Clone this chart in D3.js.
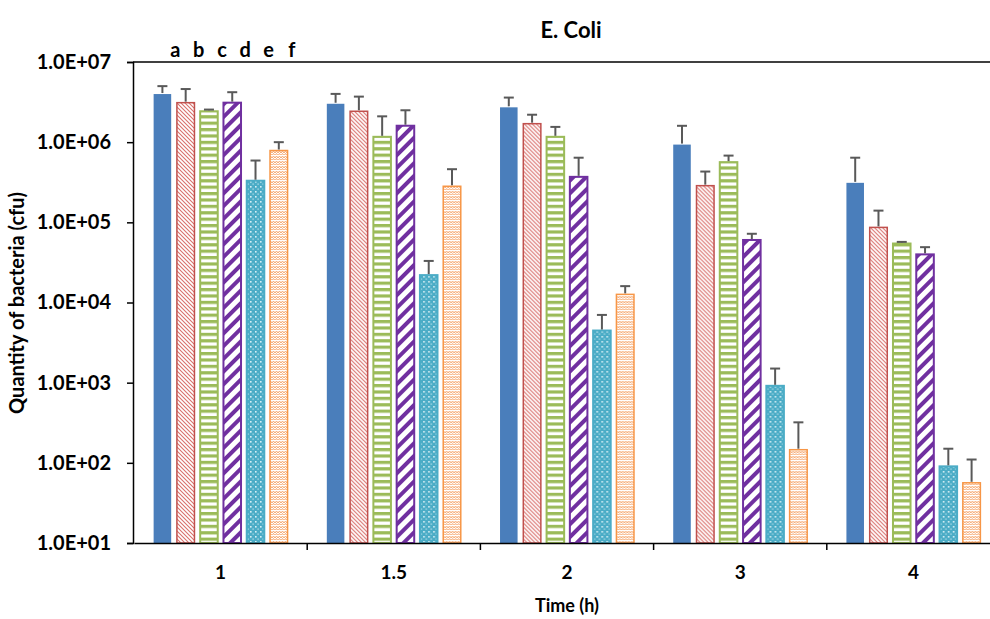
<!DOCTYPE html>
<html>
<head>
<meta charset="utf-8">
<script src="https://cdn.jsdelivr.net/npm/d3@7/dist/d3.min.js"></script>
<style>
  body { margin: 0; background: #fff; }
  text { font-family: Lato, "Open Sans", sans-serif; font-weight: bold; fill: #000; }
</style>
</head>
<body>
<svg id="chart" width="990" height="619"></svg>
<script>
// time points (h)
const times = ["1", "1.5", "2", "3", "4"];
const seriesKeys = ["a", "b", "c", "d", "e", "f"];

// mean counts (cfu), one array per series, in the order of times
const seriesA = [4.1e6, 3.1e6, 2.8e6, 9.6e5, 3.2e5];
const seriesB = [3.2e6, 2.5e6, 1.75e6, 2.95e5, 8.9e4];
const seriesC = [2.5e6, 1.2e6, 1.2e6, 5.8e5, 5.6e4];
const seriesD = [3.2e6, 1.65e6, 3.8e5, 6.2e4, 4.1e4];
const seriesE = [3.4e5, 2.26e4, 4.6e3, 9.4e2, 9.3e1];
const seriesF = [8.1e5, 2.9e5, 1.3e4, 1.5e2, 5.8e1];

// top of the error bar (cfu)
const errA = [5.0e6, 4.0e6, 3.6e6, 1.6e6, 6.4e5];
const errB = [4.6e6, 3.7e6, 2.2e6, 4.3e5, 1.4e5];
const errC = [2.55e6, 2.1e6, 1.55e6, 6.8e5, 5.7e4];
const errD = [4.2e6, 2.5e6, 6.4e5, 7.2e4, 4.9e4];
const errE = [5.9e5, 3.3e4, 7.0e3, 1.5e3, 1.5e2];
const errF = [1.0e6, 4.6e5, 1.6e4, 3.2e2, 1.1e2];

const yTicks = [1e1, 1e2, 1e3, 1e4, 1e5, 1e6, 1e7];

const values = [seriesA, seriesB, seriesC, seriesD, seriesE, seriesF];
const errors = [errA, errB, errC, errD, errE, errF];

const data = times.map((t, i) => ({
  time: t,
  bars: seriesKeys.map((k, j) => ({ key: k, value: values[j][i], err: errors[j][i] }))
}));

const svg = d3.select("#chart");
const plot = { left: 133, right: 1000, top: 62, bottom: 543 };

const x = d3.scaleBand().domain(times).range([plot.left + 1, plot.right]);
const xSub = d3.scaleBand().domain(seriesKeys).range([0, x.bandwidth()])
  .paddingInner(0.16).paddingOuter(0.8);
const y = d3.scaleLog().domain([1e1, 1e7]).range([plot.bottom, plot.top]);

// patterns
const defs = svg.append("defs");
const colors = { a: "#4a7ebb", b: "#c0504d", c: "#9bbb59", d: "#7030a0", e: "#4bacc6", f: "#f79646" };

let p = defs.append("pattern").attr("id", "pb").attr("patternUnits", "userSpaceOnUse")
  .attr("width", 4).attr("height", 4);
p.append("rect").attr("width", 4).attr("height", 4).attr("fill", "#fff");
p.append("path").attr("d", "M-1,-1 L5,5 M-1,3 L1,5 M3,-1 L5,1")
  .attr("stroke", "#d9706c").attr("stroke-width", 1.1);

p = defs.append("pattern").attr("id", "pc").attr("patternUnits", "userSpaceOnUse")
  .attr("width", 6).attr("height", 6.4);
p.append("rect").attr("width", 6).attr("height", 6.4).attr("fill", "#fff");
p.append("rect").attr("width", 6).attr("height", 3.2).attr("fill", colors.c);

p = defs.append("pattern").attr("id", "pd").attr("patternUnits", "userSpaceOnUse")
  .attr("width", 9).attr("height", 9).attr("patternTransform", "rotate(45)");
p.append("rect").attr("width", 9).attr("height", 9).attr("fill", "#fff");
p.append("rect").attr("width", 4).attr("height", 9).attr("fill", colors.d);

p = defs.append("pattern").attr("id", "pe").attr("patternUnits", "userSpaceOnUse")
  .attr("width", 5).attr("height", 5);
p.append("rect").attr("width", 5).attr("height", 5).attr("fill", colors.e);
p.append("rect").attr("x", 1).attr("y", 1).attr("width", 1.6).attr("height", 1.6).attr("fill", "#d8f0f6");
p.append("rect").attr("x", 3.5).attr("y", 3.5).attr("width", 1.2).attr("height", 1.2).attr("fill", "#bfe6ef");

p = defs.append("pattern").attr("id", "pf").attr("patternUnits", "userSpaceOnUse")
  .attr("width", 6).attr("height", 5);
p.append("rect").attr("width", 6).attr("height", 5).attr("fill", "#fff");
p.append("path").attr("d", "M0,3 L1.5,1 L3,3 L4.5,1 L6,3 M0,5.5 L1.5,3.5 L3,5.5 L4.5,3.5 L6,5.5")
  .attr("fill", "none").attr("stroke", "#f6a66c").attr("stroke-width", 1);

const fills = { a: colors.a, b: "url(#pb)", c: "url(#pc)", d: "url(#pd)", e: "url(#pe)", f: "url(#pf)" };

// bars
const groups = svg.append("g").selectAll("g").data(data).enter().append("g")
  .attr("transform", d => "translate(" + x(d.time) + ",0)");

groups.selectAll("rect.bar").data(d => d.bars).enter().append("rect")
  .attr("class", "bar")
  .attr("x", d => xSub(d.key) + 1)
  .attr("y", d => y(d.value) + 1)
  .attr("width", xSub.bandwidth() - 2)
  .attr("height", d => plot.bottom - y(d.value) - 1)
  .attr("fill", d => fills[d.key])
  .attr("stroke", d => d.key === "a" ? "none" : colors[d.key])
  .attr("stroke-width", d => d.key === "b" || d.key === "f" ? 1.5 : 2);

// error bars (upper only)
const errG = groups.selectAll("g.err").data(d => d.bars).enter().append("g").attr("class", "err");
errG.append("line")
  .attr("x1", d => xSub(d.key) + xSub.bandwidth() / 2)
  .attr("x2", d => xSub(d.key) + xSub.bandwidth() / 2)
  .attr("y1", d => y(d.value))
  .attr("y2", d => y(d.err))
  .attr("stroke", "#595959").attr("stroke-width", 2);
errG.append("line")
  .attr("x1", d => xSub(d.key) + xSub.bandwidth() / 2 - 5)
  .attr("x2", d => xSub(d.key) + xSub.bandwidth() / 2 + 5)
  .attr("y1", d => y(d.err))
  .attr("y2", d => y(d.err))
  .attr("stroke", "#595959").attr("stroke-width", 2);

// y axis
const yAxis = svg.append("g").attr("transform", "translate(" + plot.left + ",0)")
  .call(d3.axisLeft(y).tickValues(yTicks).tickSize(6).tickPadding(16)
    .tickFormat(d => d3.format(".1e")(d).toUpperCase().replace(/E\+(\d)$/, "E+0$1")));
yAxis.select(".domain").attr("stroke", "#000").attr("stroke-width", 1.5);
yAxis.selectAll(".tick line").attr("stroke", "#000").attr("stroke-width", 1.5);
yAxis.selectAll("text").style("font-size", "20px");

// top border
svg.append("line").attr("x1", plot.left).attr("x2", 990).attr("y1", plot.top).attr("y2", plot.top)
  .attr("stroke", "#000").attr("stroke-width", 1.5);

// x axis
const xAxis = svg.append("g").attr("transform", "translate(0," + plot.bottom + ")")
  .call(d3.axisBottom(x).tickSize(0).tickPadding(23));
xAxis.select(".domain").attr("stroke", "#000").attr("stroke-width", 1.5);
xAxis.selectAll("text").style("font-size", "19px");
svg.append("g").selectAll("line").data(times).enter().append("line")
  .attr("x1", d => x(d) + x.bandwidth()).attr("x2", d => x(d) + x.bandwidth())
  .attr("y1", plot.bottom).attr("y2", plot.bottom + 7)
  .attr("stroke", "#000").attr("stroke-width", 1.5);

// series letters above first group
svg.append("g").selectAll("text").data(seriesKeys).enter().append("text")
  .attr("x", d => x(times[0]) + xSub(d) + xSub.bandwidth() / 2 + 13)
  .attr("y", 57)
  .attr("text-anchor", "middle")
  .style("font-size", "20px")
  .text(d => d);

// titles
svg.append("text").attr("x", 571).attr("y", 38).attr("text-anchor", "middle")
  .style("font-size", "22px").text("E. Coli");
svg.append("text").attr("x", 567).attr("y", 612).attr("text-anchor", "middle")
  .style("font-size", "18px").text("Time (h)");
svg.append("text").attr("transform", "translate(24,303) rotate(-90)").attr("text-anchor", "middle")
  .style("font-size", "20px").text("Quantity of bacteria (cfu)");
</script>
</body>
</html>
